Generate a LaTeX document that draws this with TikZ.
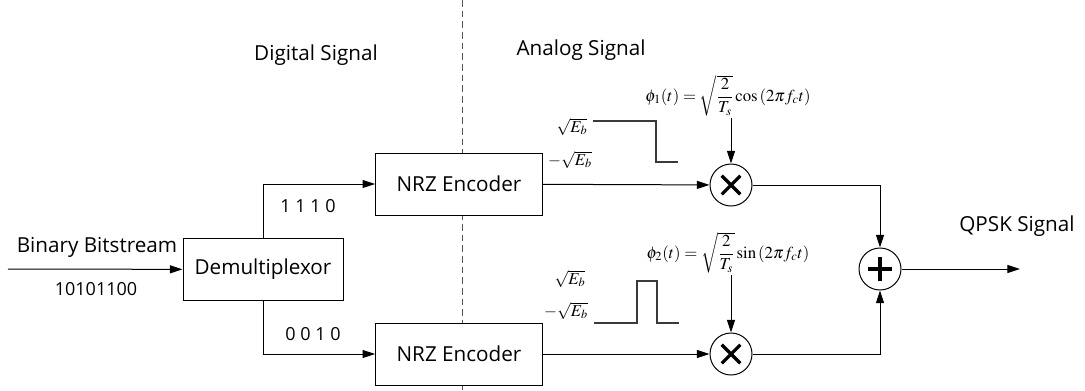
\documentclass[tikz,border=0pt]{standalone}
\usepackage{mathptmx}
\usepackage[no-math]{fontspec}
\setmainfont{Open Sans}
\usepackage{tikz}
\usetikzlibrary{arrows.meta,positioning,calc}
\definecolor{ink}{HTML}{000000}
\definecolor{wave}{HTML}{3A3A3A}
\definecolor{divider}{HTML}{555555}

\begin{document}
\begin{tikzpicture}[x=0.75pt,y=-0.75pt,line width=0.75pt,>={Triangle[length=9.5pt,width=6pt]},
  block/.style={draw,fill=white,minimum width=120pt,minimum height=47pt,inner sep=0pt,font=\fontsize{15.5}{18}\selectfont},
  encbox/.style={block,minimum width=125pt,minimum height=46.5pt},
  mixer/.style={draw,circle,fill=white,minimum size=31.5pt,inner sep=0pt},
  times/.style={mixer,path picture={\draw[line width=2.4pt]
      ($(path picture bounding box.center)+(-7pt,-7pt)$) -- ($(path picture bounding box.center)+(7pt,7pt)$)
      ($(path picture bounding box.center)+(-7pt,7pt)$) -- ($(path picture bounding box.center)+(7pt,-7pt)$);}},
  plus/.style={mixer,path picture={\draw[line width=2.4pt]
      ($(path picture bounding box.center)+(-9pt,0)$) -- ($(path picture bounding box.center)+(9pt,0)$)
      ($(path picture bounding box.center)+(0,-9pt)$) -- ($(path picture bounding box.center)+(0,9pt)$);}},
  lbl/.style={font=\fontsize{15.5}{18}\selectfont},
  bits/.style={font=\fontsize{13.5}{16}\selectfont},
  eq/.style={font=\fontsize{12.6}{15}\selectfont,inner sep=1pt},
  lev/.style={font=\fontsize{12.5}{15}\selectfont}]
  \useasboundingbox (0,0) rectangle (1085,390);

  % digital / analog divider
  \draw[divider,dash pattern=on 5pt off 3pt] (462,0) -- (462,390);

  \node[block] (demux) at (263,269.5) {Demultiplexor};
  \node[encbox] (nrzA) at (459,184) {NRZ Encoder};
  \node[encbox] (nrzB) at (459,354) {NRZ Encoder};
  \node[times] (mixA) at (731,185) {};
  \node[times] (mixB) at (731,354) {};
  \node[plus] (sum) at (880,269) {};

  \coordinate (src) at (8,269);
  \coordinate (out) at (1020,269);

  \node[lbl] (binTxt) at (97,247) {Binary Bitstream};
  \node[bits] (binSeq) at (96,289) {10101100};
  \node[bits] (bitsA) at (308,206) {1 1 1 0};
  \node[bits] (bitsB) at (313,334) {0 0 1 0};
  \node[lbl] (digTxt) at (316,55) {Digital Signal};
  \node[lbl] (anaTxt) at (581,50) {Analog Signal};
  \node[lbl] (qpskTxt) at (1017,226) {QPSK Signal};

  \node[eq] (phiTxtA) at (728,96) {$\phi_1(t)=\sqrt{\displaystyle\frac{2}{T_s}}\cos\left(2\pi f_c t\right)$};
  \node[eq] (phiTxtB) at (728,253) {$\phi_2(t)=\sqrt{\displaystyle\frac{2}{T_s}}\sin\left(2\pi f_c t\right)$};

  \node[lev] (hiA) at (572,127) {$\sqrt{E_b}$};
  \node[lev] (loA) at (570,160) {$-\sqrt{E_b}$};
  \node[lev] (hiB) at (570,279) {$\sqrt{E_b}$};
  \node[lev] (loB) at (566,311) {$-\sqrt{E_b}$};

  \draw[wave,line width=0.9pt] (593,121) -- (656,121) -- (656,162) -- (678,162);
  \draw[wave,line width=0.9pt] (594,323) -- (637,323) -- (637,281) -- (657,281) -- (657,323) -- (679,323);

  \draw[->] (src) -- (demux);
  \draw[->] (demux.north) |- (nrzA.west);
  \draw[->] (demux.south) |- (nrzB.west);
  \draw[->] (nrzA) -- (mixA);
  \draw[->] (nrzB) -- (mixB);
  \draw[->] (phiTxtA.south -| mixA) -- (mixA);
  \draw[->] (phiTxtB.south -| mixB) -- (mixB);
  \draw[->] (mixA) -| (sum);
  \draw[->] (mixB) -| (sum);
  \draw[->] (sum) -- (out);
\end{tikzpicture}
\end{document}
